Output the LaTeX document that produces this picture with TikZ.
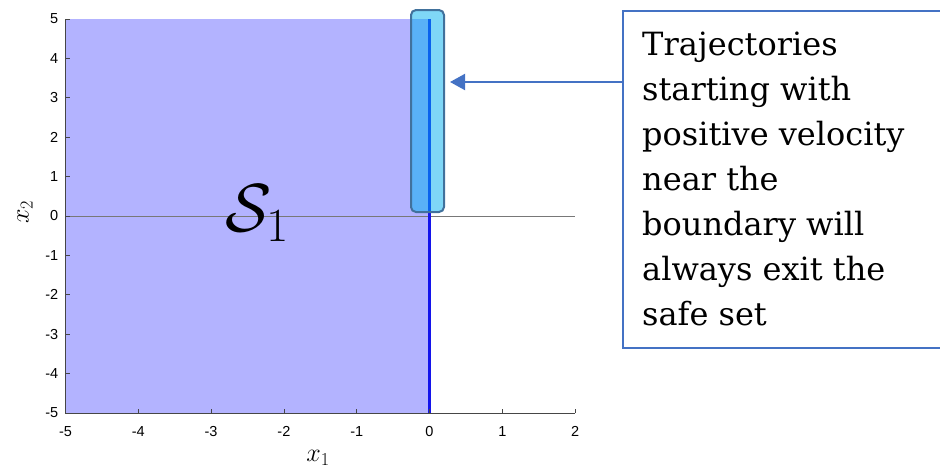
\RequirePackage{fix-cm}
\documentclass[tikz,border=0pt]{standalone}
\usepackage{fontspec}
\newfontfamily\tickfont{Liberation Sans}
\newfontfamily\boxfont{DejaVu Serif}
\usetikzlibrary{arrows.meta}
\definecolor{fillS}{RGB}{179,179,255}
\definecolor{bline}{RGB}{20,20,235}
\definecolor{axgray}{RGB}{70,70,70}
\definecolor{zgray}{RGB}{120,120,120}
\definecolor{hlfill}{RGB}{0,176,240}
\definecolor{hlborder}{RGB}{65,113,156}
\definecolor{accent}{RGB}{68,114,196}
\tikzset{
  ticklab/.style={font=\tickfont\fontsize{14.5}{16}\selectfont, text=black, inner sep=0pt},
  axline/.style={axgray, line width=0.8pt},
  hlbox/.style={draw=hlborder, line width=2pt, fill=hlfill, fill opacity=0.5, rounded corners=5pt, inner sep=0pt},
  notebox/.style={draw=accent, line width=2pt, inner sep=0pt},
  notetext/.style={font=\boxfont\fontsize{32}{45}\selectfont, align=left, inner sep=0pt},
  pointer/.style={accent, line width=2pt, -{Triangle[length=15pt,width=16pt]}}
}
\begin{document}
\begin{tikzpicture}[x=1pt,y=-1pt]
\useasboundingbox (0,0) rectangle (940,469);
\clip (0,0) rectangle (940,469);
\begin{scope}[shift={(429.5pt,-216pt)}, x=72.8pt, y=39.4pt]
  \fill[fillS] (-5,-5) rectangle (0,5);
  \draw[zgray, line width=1pt] (-5,0) -- (2,0);
  \draw[bline, line width=2.4pt] (0,-5) -- (0,5);
  \draw[axline] (-5,5) -- (-5,-5) -- (2,-5);
  \foreach \x in {-5,...,2} {
    \draw[axline] (\x,-5) -- ++(0pt,4pt);
    \node[ticklab, anchor=north] (xl\x) at ([yshift=-13pt]\x,-5) {\x};
  }
  \foreach \y in {-5,...,5} {
    \draw[axline] (-5,\y) -- ++(4pt,0pt);
    \node[ticklab, anchor=east] (yl\y) at ([xshift=-7pt]-5,\y) {\y};
  }
\end{scope}
\node[font=\fontsize{26}{28}\selectfont] (xlab) at (318,458) {$x_1$};
\node[font=\fontsize{26}{28}\selectfont, rotate=90] (ylab) at (25,212) {$x_2$};
\node[font=\fontsize{68}{70}\selectfont] (S1) at (257,213) {$\mathcal{S}_1$};
\node[hlbox, minimum width=33pt, minimum height=202pt] (hl) at (427.5,111) {};
\node[notebox, minimum width=340pt, minimum height=336.7pt, anchor=north west] (box) at (621.7,10) {};
\node[notetext, anchor=base west] (txt) at (642,325) {Trajectories\\starting with\\positive velocity\\near the\\boundary will\\always exit the\\safe set};
\coordinate (ay) at (0,82);
\coordinate (tip) at ([xshift=5pt]hl.east);
\draw[pointer] (box.west |- ay) -- (tip |- ay);
\end{tikzpicture}
\end{document}
